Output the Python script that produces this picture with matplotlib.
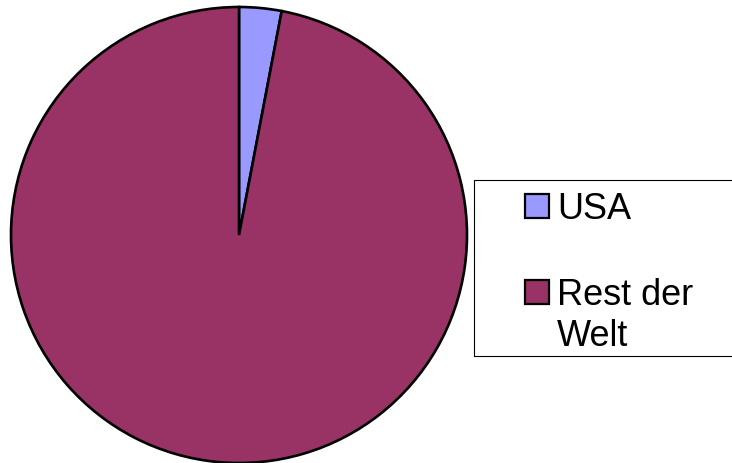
import matplotlib.pyplot as plt
from matplotlib.patches import Rectangle

plt.rcParams['font.family'] = ['Liberation Sans', 'DejaVu Sans']

# Daten
labels = ['USA', 'Rest der\nWelt']
werte = [3, 97]
farben = ['#9999FF', '#993366']

W, H = 732, 464
fig = plt.figure(figsize=(W / 100, H / 100), dpi=100)

# Kreis: Mittelpunkt (239, 236) px, Radius 228 px
cx, cy, r = 239, 236, 228
ax = fig.add_axes([(cx - r) / W, (H - cy - r) / H, 2 * r / W, 2 * r / H])
wedges, _ = ax.pie(werte, colors=farben, startangle=90, counterclock=False,
                   wedgeprops={'edgecolor': 'black', 'linewidth': 1.9})
for w in wedges:
    w.set_clip_on(False)
ax.set_xlim(-1, 1)
ax.set_ylim(-1, 1)
ax.set_aspect('equal')
ax.axis('off')

# Legende (von Hand)
fig.patches.append(Rectangle((474 / W, 1 - 357 / H), 300 / W, 176 / H,
                             transform=fig.transFigure, fill=False,
                             edgecolor='black', linewidth=0.8))
oben = [195, 281]
for lab, col, y in zip(labels, farben, oben):
    fig.patches.append(Rectangle((525 / W, 1 - (y + 24) / H), 24 / W, 24 / H,
                                 transform=fig.transFigure, facecolor=col,
                                 edgecolor='black', linewidth=1.6))
    for i, zeile in enumerate(lab.split('\n')):
        fig.text(557 / W, 1 - (y + 24 + 41 * i) / H, zeile, fontsize=26,
                 va='baseline', ha='left')

fig.savefig('out.png', dpi=100)
